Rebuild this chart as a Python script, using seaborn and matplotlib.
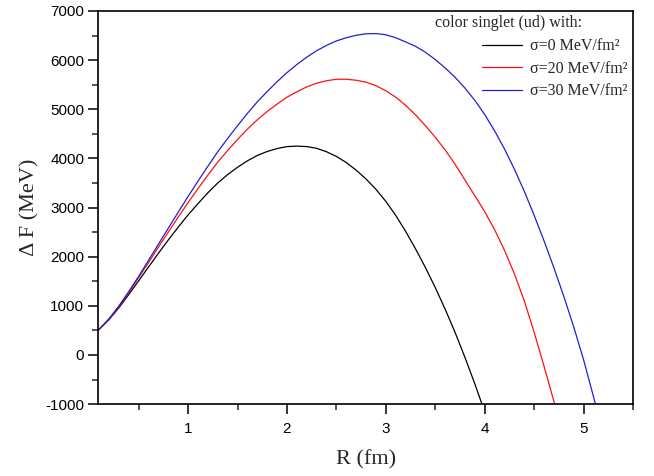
import numpy as np
import pandas as pd
import matplotlib
matplotlib.use("Agg")
import matplotlib.pyplot as plt
from matplotlib.ticker import MultipleLocator
import seaborn as sns

# valores (R em fm, Delta F em MeV)
r_black = [0.09, 0.2, 0.3, 0.4, 0.5, 0.6, 0.7, 0.8, 0.9, 1.0,
           1.1, 1.2, 1.3, 1.4, 1.5, 1.6, 1.7, 1.8, 1.9, 2.0,
           2.1, 2.2, 2.3, 2.4, 2.5, 2.6, 2.7, 2.8, 2.9, 3.0,
           3.1, 3.2, 3.3, 3.4, 3.5, 3.6, 3.7, 3.8, 3.9, 4.0]
df_black = [500, 720, 960, 1230, 1510, 1790, 2070, 2340, 2600, 2850,
            3080, 3300, 3500, 3670, 3820, 3950, 4060, 4140, 4200, 4240,
            4250, 4240, 4205, 4135, 4040, 3915, 3760, 3580, 3370, 3125,
            2840, 2515, 2160, 1780, 1370, 930, 460, -50, -590, -1160]

r_red = [0.09, 0.2, 0.3, 0.4, 0.5, 0.6, 0.7, 0.8, 0.9, 1.0,
         1.1, 1.2, 1.3, 1.4, 1.5, 1.6, 1.7, 1.8, 1.9, 2.0,
         2.1, 2.2, 2.3, 2.4, 2.5, 2.6, 2.7, 2.8, 2.9, 3.0,
         3.1, 3.2, 3.3, 3.4, 3.5, 3.6, 3.7, 3.8, 3.9, 4.0,
         4.1, 4.2, 4.3, 4.4, 4.5, 4.6, 4.7, 4.8]
df_red = [500, 730, 985, 1270, 1575, 1880, 2195, 2500, 2805, 3100,
          3385, 3660, 3925, 4160, 4385, 4595, 4785, 4955, 5105, 5245,
          5355, 5455, 5530, 5580, 5610, 5610, 5590, 5550, 5480, 5375,
          5245, 5080, 4885, 4665, 4430, 4170, 3880, 3560, 3240, 2915,
          2550, 2130, 1650, 1100, 460, -230, -950, -1700]

r_blue = [0.09, 0.2, 0.3, 0.4, 0.5, 0.6, 0.7, 0.8, 0.9, 1.0,
          1.1, 1.2, 1.3, 1.4, 1.5, 1.6, 1.7, 1.8, 1.9, 2.0,
          2.1, 2.2, 2.3, 2.4, 2.5, 2.6, 2.7, 2.8, 2.9, 3.0,
          3.1, 3.2, 3.3, 3.4, 3.5, 3.6, 3.7, 3.8, 3.9, 4.0,
          4.1, 4.2, 4.3, 4.4, 4.5, 4.6, 4.7, 4.8, 4.9, 5.0,
          5.1, 5.2]
df_blue = [500, 735, 995, 1290, 1600, 1925, 2255, 2580, 2905, 3225,
           3535, 3840, 4135, 4405, 4665, 4915, 5150, 5360, 5560, 5745,
           5910, 6060, 6190, 6300, 6390, 6455, 6505, 6535, 6540, 6515,
           6455, 6370, 6280, 6160, 6010, 5840, 5650, 5430, 5180, 4890,
           4560, 4190, 3780, 3330, 2840, 2320, 1770, 1190, 570, -100,
           -850, -1620]

labels = ["σ=0 MeV/fm²", "σ=20 MeV/fm²", "σ=30 MeV/fm²"]
colors = ["black", "#ff1010", "#2020d0"]
x_ticks = [1, 2, 3, 4, 5]
y_ticks = [-1000, 0, 1000, 2000, 3000, 4000, 5000, 6000, 7000]

sns.set_theme(style="ticks")
plt.rcParams["font.family"] = ["Liberation Sans", "DejaVu Sans"]
plt.rcParams["axes.unicode_minus"] = False

fig, ax = plt.subplots(figsize=(6.54, 4.76), dpi=100)
fig.subplots_adjust(left=0.150, right=0.968, top=0.977, bottom=0.151)

series = [(r_black, df_black), (r_red, df_red), (r_blue, df_blue)]
for (r, f), lab, c in zip(series, labels, colors):
    sns.lineplot(x=r, y=f, ax=ax, color=c, linewidth=0.9, label=lab)

ax.set_xlim(0.09, 5.5)
ax.set_ylim(-1000, 7000)
ax.set_xticks(x_ticks)
ax.set_yticks(y_ticks)
ax.xaxis.set_minor_locator(MultipleLocator(0.5))
ax.yaxis.set_minor_locator(MultipleLocator(500))
ax.tick_params(which="major", direction="out", length=7, width=1.1,
               labelsize=11, colors="black", pad=6)
ax.tick_params(which="minor", direction="out", length=4, width=1.1)
ax.tick_params(axis="y", which="major", pad=3)
for sp in ax.spines.values():
    sp.set_linewidth(1.2)
    sp.set_color("black")

serif = ["Liberation Serif", "DejaVu Serif"]
ax.set_xlabel("R (fm)", family=serif, fontsize=16, labelpad=10)
ax.set_ylabel("Δ F (MeV)", family=serif, fontsize=16, labelpad=4)

ax.text(0.768, 0.970, "color singlet (ud) with:", transform=ax.transAxes,
        ha="center", va="center", family=serif, fontsize=11.5)
ax.legend(loc="upper right", bbox_to_anchor=(0.99, 0.930), frameon=False,
          prop={"family": serif, "size": 11.5}, handlelength=2.5,
          labelspacing=0.4, borderaxespad=0, borderpad=0, handletextpad=0.5)

plt.savefig("out.png", dpi=100, facecolor="white")
plt.close()
